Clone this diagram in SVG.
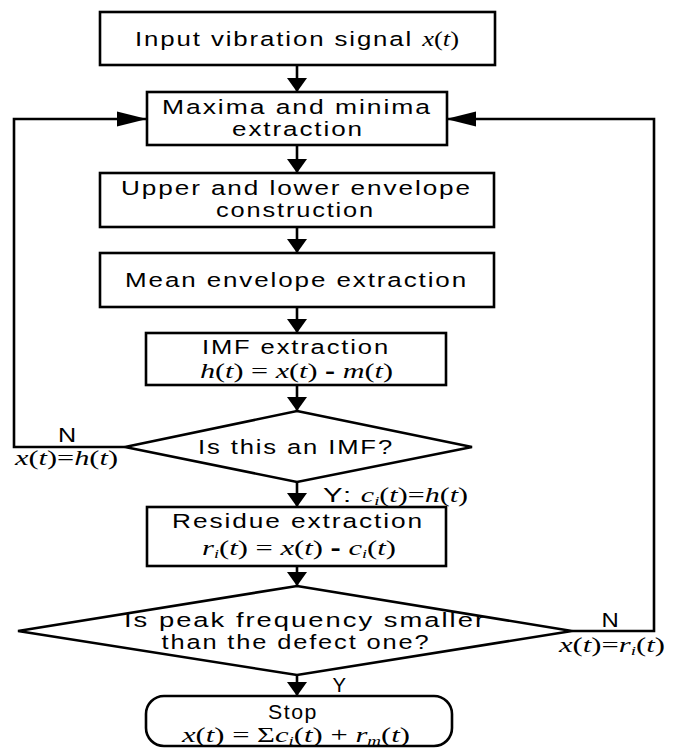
<svg xmlns="http://www.w3.org/2000/svg" width="677" height="749" viewBox="0 0 677 749">
<style>
.box{fill:#fff;stroke:#000;stroke-width:2.6}
.c{fill:none;stroke:#000;stroke-width:2.6}
.t{font-family:"Liberation Sans",Arial,sans-serif;font-size:20.5px;fill:#000;letter-spacing:1.5px}
.m{font-family:"Liberation Serif","Times New Roman",serif;font-size:22px;fill:#000}
.ml{font-family:"Liberation Serif","Times New Roman",serif;font-size:21px;fill:#000}
.i{font-style:italic}
.h{font-family:"Liberation Sans",Arial,sans-serif;font-weight:bold}
.sub{font-size:13px}
</style>
<defs>
<marker id="av" markerUnits="userSpaceOnUse" markerWidth="14" markerHeight="20" refX="14" refY="10" orient="auto" overflow="visible">
<path d="M0,0 L14,10 L0,20 Z" fill="#000"/>
</marker>
<marker id="ah" markerUnits="userSpaceOnUse" markerWidth="30" markerHeight="15" refX="30" refY="7.5" orient="auto" overflow="visible">
<path d="M0,0 L30,7.5 L0,15 Z" fill="#000"/>
</marker>
</defs>
<rect width="677" height="749" fill="#fff"/>

<g id="connectors">
<line class="c" x1="297" y1="65" x2="297" y2="92" marker-end="url(#av)"/>
<line class="c" x1="297" y1="145" x2="297" y2="173" marker-end="url(#av)"/>
<line class="c" x1="297" y1="227" x2="297" y2="253" marker-end="url(#av)"/>
<line class="c" x1="297" y1="307" x2="297" y2="333" marker-end="url(#av)"/>
<line class="c" x1="297" y1="385" x2="297" y2="411" marker-end="url(#av)"/>
<line class="c" x1="297" y1="482" x2="297" y2="507" marker-end="url(#av)"/>
<line class="c" x1="297" y1="566" x2="297" y2="586" marker-end="url(#av)"/>
<line class="c" x1="297" y1="675" x2="297" y2="696" marker-end="url(#av)"/>
<polyline class="c" points="125,447 14,447 14,119 147,119" marker-end="url(#ah)"/>
<polyline class="c" points="572,631 654,631 654,119 446,119" marker-end="url(#ah)"/>
<text class="t" x="68" y="442" text-anchor="middle" letter-spacing="0" textLength="20" lengthAdjust="spacingAndGlyphs">N</text>
<text class="ml" x="15" y="465" textLength="103" lengthAdjust="spacingAndGlyphs"><tspan class="i">x</tspan>(<tspan class="i">t</tspan>)=<tspan class="i">h</tspan>(<tspan class="i">t</tspan>)</text>
<text x="323" y="502" textLength="145" lengthAdjust="spacingAndGlyphs"><tspan class="t">Y:</tspan><tspan class="ml"> </tspan><tspan class="ml i">c</tspan><tspan class="ml i sub" dy="3">i</tspan><tspan class="ml" dy="-3">(</tspan><tspan class="ml i">t</tspan><tspan class="ml">)=</tspan><tspan class="ml i">h</tspan><tspan class="ml">(</tspan><tspan class="ml i">t</tspan><tspan class="ml">)</tspan></text>
<text class="t" x="611" y="627" text-anchor="middle" letter-spacing="0" textLength="19" lengthAdjust="spacingAndGlyphs">N</text>
<text class="ml" x="559" y="652" textLength="106" lengthAdjust="spacingAndGlyphs"><tspan class="i">x</tspan>(<tspan class="i">t</tspan>)=<tspan class="i">r</tspan><tspan class="i sub" dy="3">i</tspan><tspan dy="-3">(</tspan><tspan class="i">t</tspan>)</text>
<text class="t" x="340" y="692" text-anchor="middle" letter-spacing="0" textLength="15" lengthAdjust="spacingAndGlyphs">Y</text>
</g>

<g id="n1">
<rect class="box" x="100" y="12" width="395" height="53"/>
<text x="297" y="46" text-anchor="middle" textLength="324" lengthAdjust="spacingAndGlyphs"><tspan class="t">Input vibration signal </tspan><tspan class="ml i">x</tspan><tspan class="ml">(</tspan><tspan class="ml i">t</tspan><tspan class="ml">)</tspan></text>
</g>

<g id="n2">
<rect class="box" x="147" y="92" width="300" height="53"/>
<text class="t" x="297" y="114" text-anchor="middle" textLength="270" lengthAdjust="spacingAndGlyphs">Maxima and minima</text>
<text class="t" x="298" y="136" text-anchor="middle" textLength="132" lengthAdjust="spacingAndGlyphs">extraction</text>
</g>

<g id="n3">
<rect class="box" x="100" y="173" width="394" height="54"/>
<text class="t" x="296.5" y="195" text-anchor="middle" textLength="351" lengthAdjust="spacingAndGlyphs">Upper and lower envelope</text>
<text class="t" x="295.5" y="217" text-anchor="middle" textLength="159" lengthAdjust="spacingAndGlyphs">construction</text>
</g>

<g id="n4">
<rect class="box" x="100" y="253" width="394" height="54"/>
<text class="t" x="296.5" y="287" text-anchor="middle" textLength="343" lengthAdjust="spacingAndGlyphs">Mean envelope extraction</text>
</g>

<g id="n5">
<rect class="box" x="146" y="333" width="300" height="52"/>
<text class="t" x="296" y="354" text-anchor="middle" textLength="188" lengthAdjust="spacingAndGlyphs">IMF extraction</text>
<text class="ml" x="296.5" y="378" text-anchor="middle" textLength="193" lengthAdjust="spacingAndGlyphs"><tspan class="i">h</tspan>(<tspan class="i">t</tspan>) = <tspan class="i">x</tspan>(<tspan class="i">t</tspan>) <tspan class="h">-</tspan> <tspan class="i">m</tspan>(<tspan class="i">t</tspan>)</text>
</g>

<g id="n6">
<polygon class="box" points="297,411 472,447 297,482 125,447"/>
<text class="t" x="296" y="454" text-anchor="middle" textLength="196" lengthAdjust="spacingAndGlyphs">Is this an IMF?</text>
</g>

<g id="n7">
<rect class="box" x="147" y="507" width="299" height="59"/>
<text class="t" x="298" y="528" text-anchor="middle" textLength="252" lengthAdjust="spacingAndGlyphs">Residue extraction</text>
<text class="m" x="299" y="555" text-anchor="middle" textLength="194" lengthAdjust="spacingAndGlyphs"><tspan class="i">r</tspan><tspan class="i sub" dy="3">i</tspan><tspan dy="-3">(</tspan><tspan class="i">t</tspan>) = <tspan class="i">x</tspan>(<tspan class="i">t</tspan>) <tspan class="h">-</tspan> <tspan class="i">c</tspan><tspan class="i sub" dy="3">i</tspan><tspan dy="-3">(</tspan><tspan class="i">t</tspan>)</text>
</g>

<g id="n8">
<polygon class="box" points="297,586 572,631 297,675 18,631"/>
<text class="t" x="305" y="627" text-anchor="middle" textLength="362" lengthAdjust="spacingAndGlyphs">Is peak frequency smaller</text>
<text class="t" x="296" y="649" text-anchor="middle" textLength="269" lengthAdjust="spacingAndGlyphs">than the defect one?</text>
</g>

<g id="n9">
<rect class="box" x="146" y="696" width="306" height="50" rx="18" ry="18"/>
<text class="t" x="293" y="719" text-anchor="middle" textLength="50" lengthAdjust="spacingAndGlyphs">Stop</text>
<text class="ml" x="296" y="742" text-anchor="middle" textLength="228" lengthAdjust="spacingAndGlyphs"><tspan class="i">x</tspan>(<tspan class="i">t</tspan>) = Σ<tspan class="i">c</tspan><tspan class="i sub" dy="3">i</tspan><tspan dy="-3">(</tspan><tspan class="i">t</tspan>) + <tspan class="i">r</tspan><tspan class="i sub" dy="3">m</tspan><tspan dy="-3">(</tspan><tspan class="i">t</tspan>)</text>
</g>
</svg>
